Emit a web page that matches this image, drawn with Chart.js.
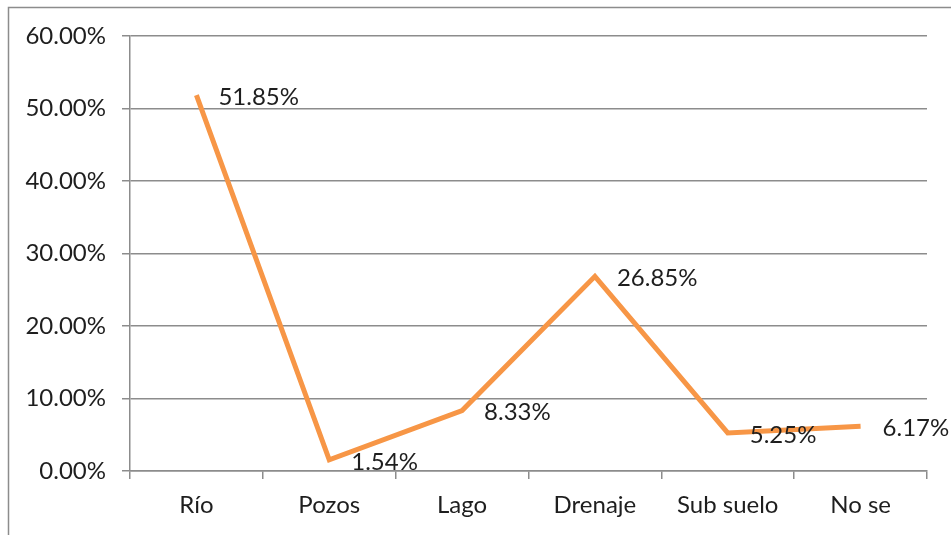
<!DOCTYPE html>
<html>
<head>
<meta charset="utf-8">
<script src="https://cdn.jsdelivr.net/npm/chart.js@4/dist/chart.umd.min.js"></script>
<style>
html,body{margin:0;padding:0;background:#fff;}
#wrap{width:951px;height:535px;position:relative;}
</style>
</head>
<body>
<div id="wrap"><canvas id="c" width="951" height="535"></canvas></div>
<script>
const categories = ["Río", "Pozos", "Lago", "Drenaje", "Sub suelo", "No se"];
const values = [51.85, 1.54, 8.33, 26.85, 5.25, 6.17];
const yTicks = [0, 10, 20, 30, 40, 50, 60];

const FONT = "Lato, 'Open Sans', sans-serif";
const TXT = "#1e1e1e";
const GRID = "#8c8c8c";

const framePlugin = {
  id: 'frame',
  beforeDraw(chart) {
    const ctx = chart.ctx;
    ctx.save();
    ctx.fillStyle = '#fff';
    ctx.fillRect(0, 0, chart.width, chart.height);
    ctx.strokeStyle = GRID;
    ctx.lineWidth = 1.5;
    ctx.strokeRect(8.5, 7.5, 2000, 2000);
    ctx.restore();
  }
};

const labelPlugin = {
  id: 'vlabels',
  afterDatasetsDraw(chart) {
    const ctx = chart.ctx;
    const meta = chart.getDatasetMeta(0);
    ctx.save();
    ctx.font = "24px " + FONT;
    ctx.fillStyle = TXT;
    ctx.textAlign = 'left';
    ctx.textBaseline = 'middle';
    meta.data.forEach((pt, i) => {
      const v = chart.data.datasets[0].data[i];
      ctx.fillText(v.toFixed(2) + '%', pt.x + 22, pt.y + 2);
    });
    ctx.restore();
  }
};

new Chart(document.getElementById('c'), {
  type: 'line',
  data: {
    labels: categories,
    datasets: [{
      data: values,
      borderColor: '#F79646',
      borderWidth: 5,
      pointRadius: 0,
      tension: 0,
      borderJoinStyle: 'miter',
      fill: false
    }]
  },
  options: {
    responsive: false,
    animation: false,
    devicePixelRatio: 1,
    layout: { padding: { left: 0, top: 36, right: 24, bottom: 0 } },
    plugins: { legend: { display: false }, tooltip: { enabled: false } },
    scales: {
      x: {
        offset: true,
        grid: { offset: true, drawOnChartArea: false, color: GRID, lineWidth: 1.5, tickLength: 8 },
        border: { color: GRID, width: 1.5 },
        ticks: { color: TXT, font: { family: FONT, size: 24 }, padding: 12, maxRotation: 0, autoSkip: false },
        afterFit(s) { s.height = 64; }
      },
      y: {
        min: 0, max: 60,
        afterBuildTicks(s) { s.ticks = yTicks.map(v => ({ value: v })); },
        grid: { color: GRID, lineWidth: 1.5, tickLength: 8 },
        border: { color: GRID, width: 1.5 },
        ticks: { color: TXT, font: { family: FONT, size: 24 }, padding: 16,
                 callback: v => Number(v).toFixed(2) + '%' },
        afterFit(s) { s.width = 130; }
      }
    }
  },
  plugins: [framePlugin, labelPlugin]
});
</script>
</body>
</html>
